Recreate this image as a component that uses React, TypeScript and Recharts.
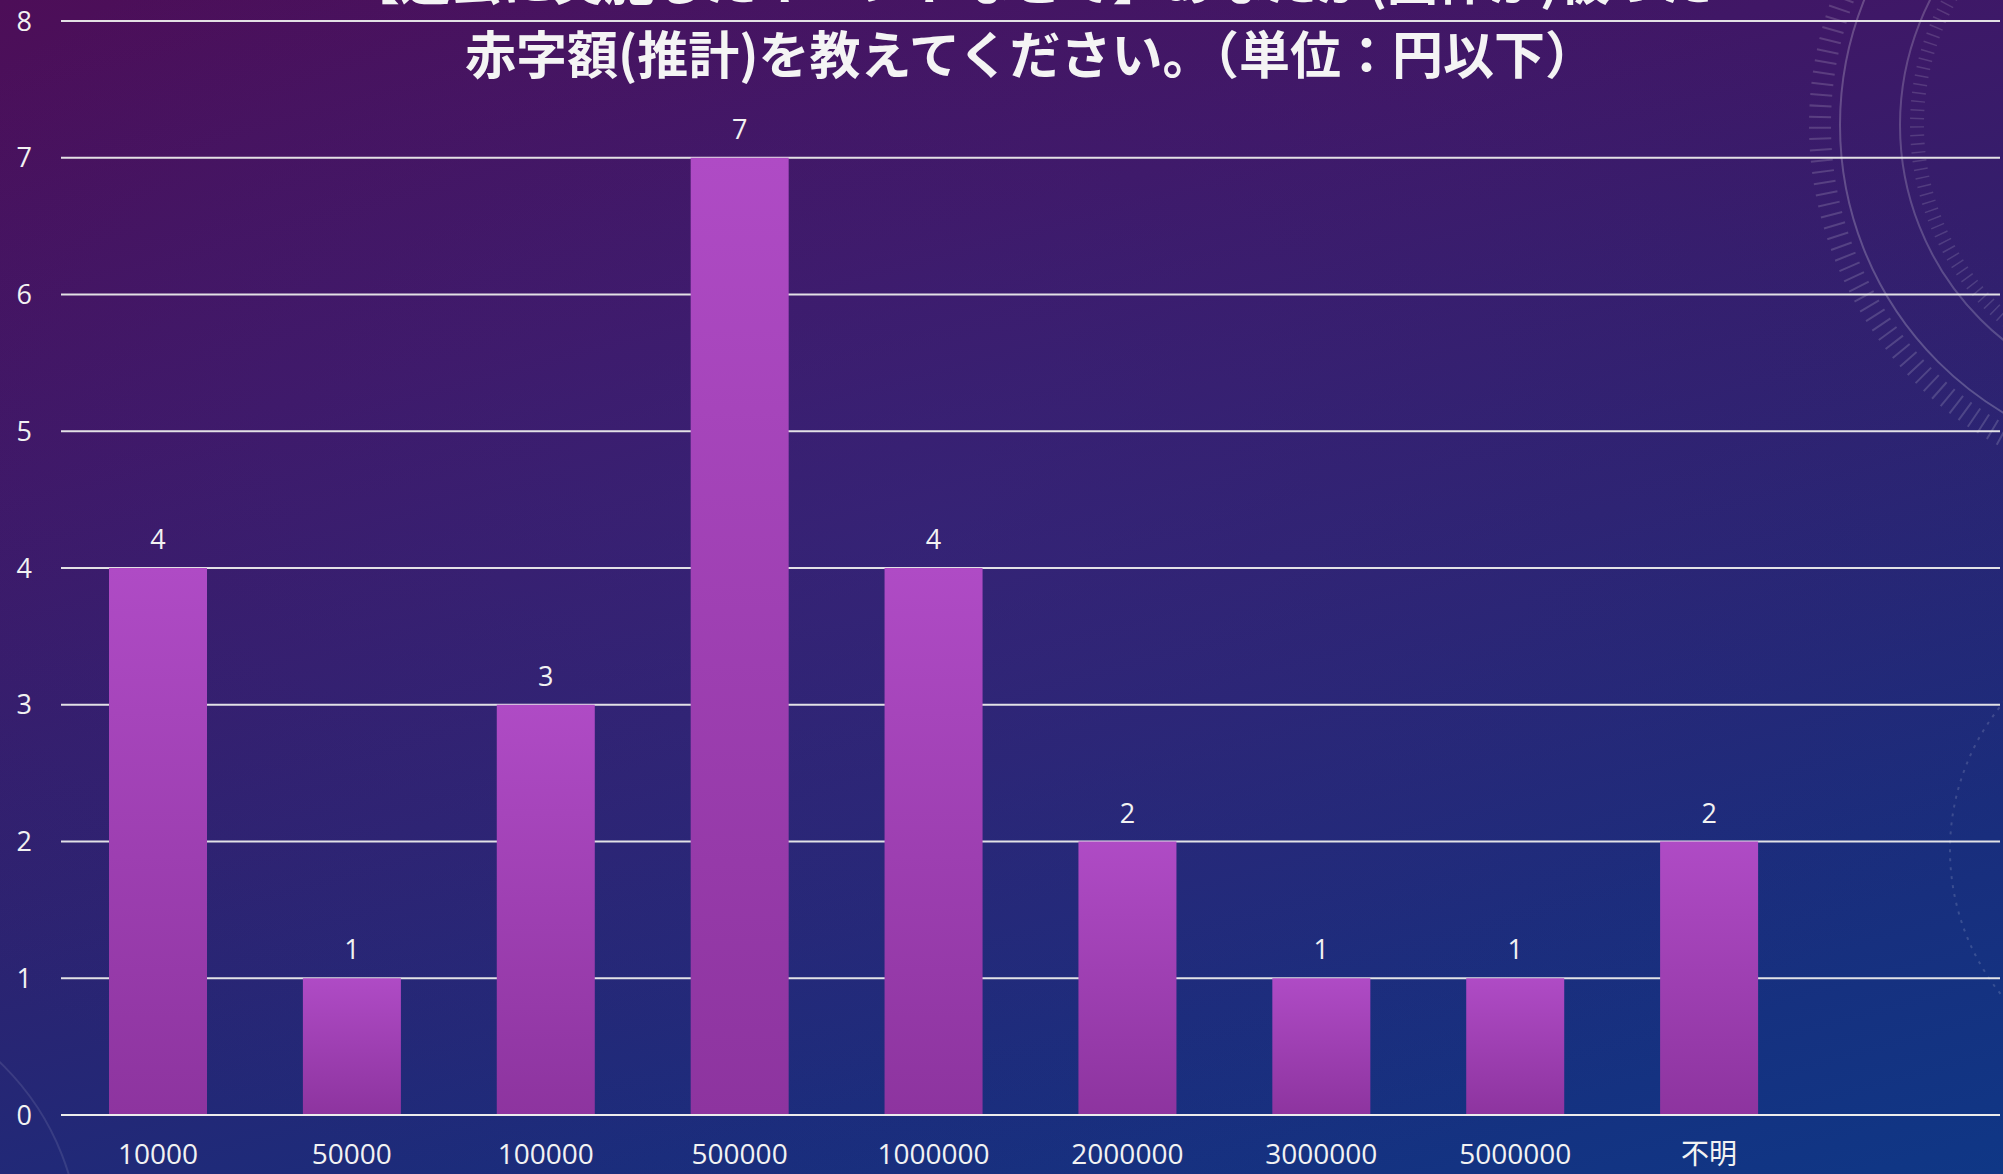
import React from "react";
import { Bar, BarChart, CartesianGrid, LabelList, XAxis, YAxis } from "recharts";

// 赤字額の区分（円以下）
const categories = [
  "10000",
  "50000",
  "100000",
  "500000",
  "1000000",
  "2000000",
  "3000000",
  "5000000",
  "不明",
];
const counts = [4, 1, 3, 7, 4, 2, 1, 1, 2];
const yTicks = [0, 1, 2, 3, 4, 5, 6, 7, 8];

const titleLine1 = "【過去に実施したイベントなどで】あなたが(団体が)被った";
const titleLine2 = "赤字額(推計)を教えてください。（単位：円以下）";

const data = categories.map((name, i) => ({ name, count: counts[i] }));

const W = 2003;
const H = 1174;
const textColor = "#f2f2f2";
const font = "'Open Sans', 'Noto Sans CJK JP', sans-serif";

function Backdrop() {
  return (
    <svg
      width={W}
      height={H}
      style={{ position: "absolute", left: 0, top: 0 }}
    >
      <defs>
        <radialGradient id="glow" cx="0.45" cy="0.45" r="0.6">
          <stop offset="0%" stopColor="#3a2a85" stopOpacity={0.35} />
          <stop offset="100%" stopColor="#3a2a85" stopOpacity={0} />
        </radialGradient>
      </defs>
      <rect width={W} height={H} fill="url(#glow)" />
      {/* 右上の飾りの円 */}
      <g fill="none" stroke="#ffffff">
        <circle cx={2175} cy={125} r={335} strokeOpacity={0.22} strokeWidth={2} />
        <circle cx={2175} cy={125} r={275} strokeOpacity={0.2} strokeWidth={2} />
        <circle
          cx={2175}
          cy={125}
          r={355}
          strokeOpacity={0.16}
          strokeWidth={22}
          strokeDasharray="2 9"
        />
        <circle
          cx={2175}
          cy={125}
          r={258}
          strokeOpacity={0.14}
          strokeWidth={14}
          strokeDasharray="1.5 7"
        />
        <circle
          cx={2180}
          cy={850}
          r={230}
          strokeOpacity={0.15}
          strokeWidth={2}
          strokeDasharray="3 6"
        />
        <circle cx={-180} cy={1250} r={260} strokeOpacity={0.1} strokeWidth={2} />
      </g>
    </svg>
  );
}

// 棒：上が明るく下が濃いグラデーション
const GradientBar = (props: any) => {
  const { x, y, width, height, index } = props;
  if (!(width > 0) || !(height > 0)) return null;
  const id = `barFill-${index}`;
  return (
    <g>
      <defs>
        <linearGradient id={id} x1="0" y1="0" x2="0" y2="1">
          <stop offset="0%" stopColor="#af4bc5" />
          <stop offset="100%" stopColor="#8d349f" />
        </linearGradient>
      </defs>
      <rect x={x} y={y} width={width} height={height} fill={`url(#${id})`} />
    </g>
  );
};

export default function App() {
  return (
    <div
      style={{
        position: "absolute",
        left: 0,
        top: 0,
        width: W,
        height: H,
        overflow: "hidden",
        fontFamily: font,
        background:
          "linear-gradient(165deg, #4d0e58 0%, #401766 28%, #2c2371 55%, #1a2d7c 78%, #0f3786 100%)",
      }}
    >
      <Backdrop />
      <div style={{ position: "absolute", left: 0, top: 0 }}>
        <BarChart
          width={W}
          height={H}
          data={data}
          margin={{ top: 21, right: 3, left: 0, bottom: 0 }}
          barCategoryGap="50%"
        >
          <CartesianGrid
            vertical={false}
            stroke="#ececec"
            strokeWidth={2}
            strokeOpacity={0.95}
          />
          <XAxis
            dataKey="name"
            height={59}
            axisLine={{ stroke: "#ececec", strokeWidth: 2 }}
            tickLine={false}
            tickSize={0}
            tickMargin={29}
            padding={{ left: 0, right: 194 }}
            interval={0}
            tick={{ fill: textColor, fontSize: 28, fontFamily: font }}
          />
          <YAxis
            width={61}
            domain={[0, 8]}
            ticks={yTicks}
            axisLine={false}
            tickLine={false}
            tickSize={0}
            tickMargin={29}
            tick={{ fill: textColor, fontSize: 27, fontFamily: font }}
          />
          <Bar
            dataKey="count"
            barSize={98}
            fill="#a044b6"
            shape={GradientBar}
            isAnimationActive={false}
          >
            <LabelList
              dataKey="count"
              position="top"
              offset={19}
              fill={textColor}
              fontSize={27}
              fontFamily={font}
            />
          </Bar>
        </BarChart>
      </div>
      <div
        style={{
          position: "absolute",
          left: 29,
          width: W,
          top: -59,
          textAlign: "center",
          color: "#f4f4f4",
          fontFamily: "'Noto Sans CJK JP', sans-serif",
          fontWeight: 700,
          fontSize: 51,
          lineHeight: "74px",
          whiteSpace: "nowrap",
          pointerEvents: "none",
        }}
      >
        <div>{titleLine1}</div>
        <div>{titleLine2}</div>
      </div>
    </div>
  );
}
